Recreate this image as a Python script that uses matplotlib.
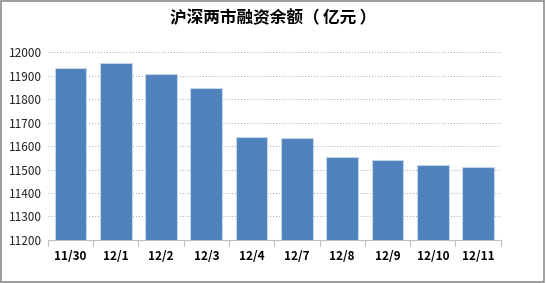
import matplotlib
matplotlib.use("Agg")
import matplotlib.pyplot as plt
from matplotlib.patches import Rectangle

plt.rcParams['font.family'] = ['Noto Sans CJK SC', 'DejaVu Sans']

dates = ['11/30', '12/1', '12/2', '12/3', '12/4', '12/7', '12/8', '12/9', '12/10', '12/11']
balance = [11931, 11952, 11906, 11848, 11640, 11633, 11555, 11540, 11520, 11509]

fig = plt.figure(figsize=(5.46, 2.83), dpi=100)
ax = fig.add_axes([0.0874, 0.152, 0.8297, 0.664])

x = range(len(dates))
ax.bar(x, balance, width=0.7, bottom=0, color='#4F81BD', edgecolor='#C6D6EA', linewidth=0.8, zorder=3)
ax.set_ylim(11200, 12000)
ax.set_xlim(-0.5, len(dates) - 0.5)
ax.set_yticks(range(11200, 12001, 100))
ax.tick_params(axis='y', length=0, labelsize=8.5, pad=4, colors='#222222')
ax.set_xticks(list(x))
ax.set_xticklabels(dates, fontsize=8.5, fontweight='bold')
ax.tick_params(axis='x', length=0, pad=7)
# category separator ticks
ax.set_xticks([i - 0.5 for i in range(len(dates) + 1)], minor=True)
ax.tick_params(axis='x', which='minor', length=4, color='#BFBFBF', width=0.8)

ax.grid(axis='y', linestyle=(0, (1, 2)), color='#A6A6A6', linewidth=0.7, zorder=0)
for side in ['top', 'right', 'left']:
    ax.spines[side].set_visible(False)
ax.spines['bottom'].set_color('#BFBFBF')
ax.spines['bottom'].set_linewidth(0.8)

fig.text(0.5, 0.935, '沪深两市融资余额（\u2009亿元\u2009）', ha='center', va='center', fontsize=12, fontweight='bold')

fig.patches.append(Rectangle((0.002, 0.003), 0.995, 0.993, transform=fig.transFigure,
                             fill=False, edgecolor='#8C8C8C', linewidth=1.2))

fig.savefig('out.png', dpi=100)
